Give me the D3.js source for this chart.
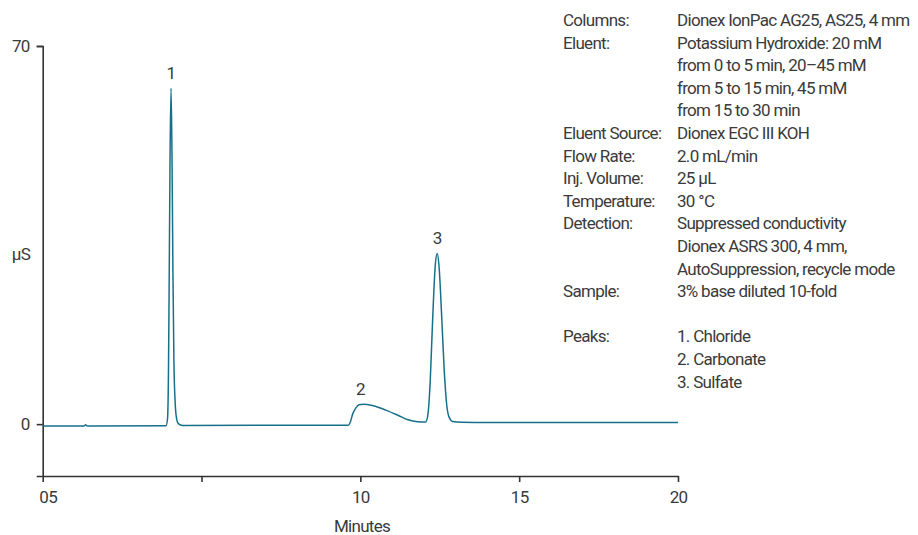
<!DOCTYPE html>
<html>
<head>
<meta charset="utf-8">
<script src="https://cdn.jsdelivr.net/npm/d3@7"></script>
<style>
  body { margin: 0; background: #fff; }
  svg text { font-family: Roboto, 'Liberation Sans', sans-serif; fill: #3a3a3a; letter-spacing: -0.7px; }
</style>
</head>
<body>
<div id="chart"></div>
<script>
// retention time (min) and conductivity (µS)
const times = [0, 1.3, 1.35, 1.4, 3.88, 3.93, 3.96, 3.98, 4.01, 4.04, 4.07, 4.10, 4.13, 4.17, 4.21, 4.27, 4.4,
  9.0, 9.62, 9.68, 9.76, 9.86, 9.96, 10.1, 10.4, 10.8, 11.2, 11.5, 11.8, 12.05,
  12.12, 12.2, 12.28, 12.36, 12.42, 12.48, 12.56, 12.64, 12.72, 12.8, 12.9, 13.2, 14, 20];
const signal = [-0.35, -0.35, -0.1, -0.35, -0.3, 1, 10, 25, 50, 62.2, 50, 28, 12, 4, 1.2, 0.1, -0.25,
  -0.2, -0.2, 0.3, 1.9, 3.0, 3.6, 3.7, 3.4, 2.6, 1.6, 0.8, 0.45, 0.4,
  1.5, 8, 20, 29.5, 31.6, 29, 20, 10, 3.5, 1.2, 0.5, 0.35, 0.3, 0.3];

const peakLabels = ['1', '2', '3'];
const peakTimes = [4.04, 10.0, 12.42];
const peakHeights = [62.2, 3.7, 31.6];

const xTicks = [0, 5, 10, 15, 20];
const xTickLabels = ['05', '', '10', '15', '20'];
const yTicks = [0, 70];

const infoKeys = ['Columns:', 'Eluent:', '', '', '', 'Eluent Source:', 'Flow Rate:', 'Inj. Volume:',
  'Temperature:', 'Detection:', '', '', 'Sample:', '', 'Peaks:', '', ''];
const infoValues = ['Dionex IonPac AG25, AS25, 4 mm', 'Potassium Hydroxide: 20 mM', 'from 0 to 5 min, 20\u201345 mM',
  'from 5 to 15 min, 45 mM', 'from 15 to 30 min', 'Dionex EGC III KOH', '2.0 mL/min', '25 \u00b5L',
  '30 \u00b0C', 'Suppressed conductivity', 'Dionex ASRS 300, 4 mm,', 'AutoSuppression, recycle mode',
  '3% base diluted 10-fold', '', '1. Chloride', '2. Carbonate', '3. Sulfate'];

const W = 918, H = 535;
const svg = d3.select('#chart').append('svg').attr('width', W).attr('height', H);

const x = d3.scaleLinear().domain([0, 20]).range([42.7, 678]);
const y = d3.scaleLinear().domain([-9.6, 70]).range([476, 46]);

// axes
const xAxis = svg.append('g')
  .attr('transform', `translate(0,${y(-9.6)})`)
  .call(d3.axisBottom(x).tickValues(xTicks).tickSize(6).tickSizeOuter(0).tickPadding(9)
    .tickFormat((d, i) => xTickLabels[i]));
xAxis.selectAll('text').attr('font-size', 17);
xAxis.select('text').attr('dx', 5); // "05" sits slightly right of the tick

const yAxis = svg.append('g')
  .attr('transform', `translate(${x(0)},0)`)
  .call(d3.axisLeft(y).tickValues(yTicks).tickSize(6).tickSizeOuter(6).tickPadding(7));
yAxis.selectAll('text').attr('font-size', 17);

svg.selectAll('.domain, .tick line').attr('stroke', '#333').attr('stroke-width', 1.6);
svg.selectAll('.tick text').style('fill', '#3a3a3a');

svg.append('text').attr('x', 362).attr('y', 532).attr('text-anchor', 'middle')
  .attr('font-size', 17).text('Minutes');
svg.append('text').attr('x', 21).attr('y', 260).attr('text-anchor', 'middle')
  .attr('font-size', 17).text('\u00b5S');

// trace
const pts = times.map((t, i) => [t, signal[i]]);
const line = d3.line().x(d => x(d[0])).y(d => y(d[1])).curve(d3.curveMonotoneX);
svg.append('path').datum(pts)
  .attr('d', line)
  .attr('fill', 'none')
  .attr('stroke', '#17708a')
  .attr('stroke-width', 1.5);

// peak numbers
svg.selectAll('.peak').data(peakLabels).enter().append('text')
  .attr('class', 'peak')
  .attr('x', (d, i) => x(peakTimes[i]))
  .attr('y', (d, i) => y(peakHeights[i]) - 9)
  .attr('text-anchor', 'middle')
  .attr('font-size', 17)
  .text(d => d);

// conditions block
const info = svg.append('g').attr('font-size', 17);
info.selectAll('.k').data(infoKeys).enter().append('text')
  .attr('x', 563).attr('y', (d, i) => 26 + i * 22.6).text(d => d);
info.selectAll('.v').data(infoValues).enter().append('text')
  .attr('x', 677).attr('y', (d, i) => 26 + i * 22.6).text(d => d);
</script>
</body>
</html>
